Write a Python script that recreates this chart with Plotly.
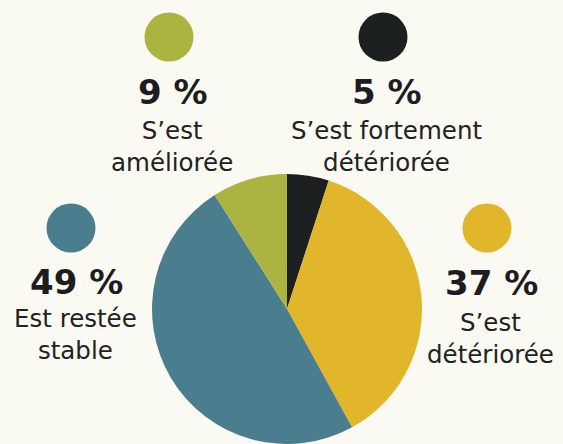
import plotly.graph_objects as go

W, H = 563, 444
BG = "#faf9f2"

labels = ["S’est fortement<br>détériorée", "S’est<br>détériorée", "Est restée<br>stable", "S’est<br>améliorée"]
values = [5, 37, 49, 9]
colors = ["#1d2021", "#e2b62a", "#4a7d8e", "#abb440"]

# legend placement (pixel centres) for circle, percent and label
circle_pos = [(383, 37), (487, 228), (71, 228), (169, 37)]
pct_pos = [(387, 92), (491, 283), (76, 282), (173, 92)]
lab_pos = [(386, 146), (490, 338), (75, 334), (172, 146)]

def px(x):
    return x / W

def py(y):
    return 1 - y / H

fig = go.Figure()
fig.add_trace(go.Pie(
    values=values,
    labels=[l.replace("<br>", " ") for l in labels],
    marker=dict(colors=colors, line=dict(width=0)),
    sort=False,
    direction="clockwise",
    rotation=0,
    textinfo="none",
    hoverinfo="label+percent",
    showlegend=False,
    domain=dict(x=[px(152), px(422)], y=[0, 270 / H]),
))

shapes = []
annotations = []
R = 24.5
for i, v in enumerate(values):
    cx, cy = circle_pos[i]
    shapes.append(dict(type="circle", xref="paper", yref="paper",
                       x0=px(cx - R), x1=px(cx + R), y0=py(cy + R), y1=py(cy - R),
                       fillcolor=colors[i], line=dict(width=0)))
    annotations.append(dict(x=px(pct_pos[i][0]), y=py(pct_pos[i][1]), xref="paper", yref="paper",
                            text=f"{v} %", showarrow=False, xanchor="center", yanchor="middle",
                            font=dict(family="DejaVu Sans", size=34, color="#1d1d1f", weight="bold")))
    annotations.append(dict(x=px(lab_pos[i][0]), y=py(lab_pos[i][1]), xref="paper", yref="paper",
                            text=labels[i], showarrow=False, xanchor="center", yanchor="middle",
                            align="center",
                            font=dict(family="DejaVu Sans", size=24.5, color="#222222")))

fig.update_layout(
    width=W, height=H,
    margin=dict(l=0, r=0, t=0, b=0),
    paper_bgcolor=BG, plot_bgcolor=BG,
    shapes=shapes, annotations=annotations,
)
fig.write_html("out.html")
